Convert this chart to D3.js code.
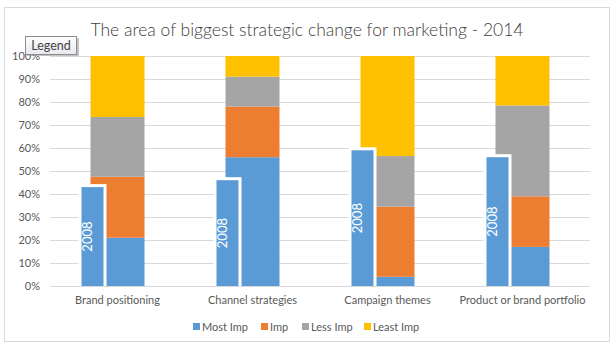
<!DOCTYPE html>
<html><head><meta charset="utf-8">
<script src="https://cdn.jsdelivr.net/npm/d3@7"></script>
<style>html,body{margin:0;padding:0;background:#fff;}svg{display:block;}</style>
</head><body>
<svg id="c" width="614" height="356"></svg>
<script>
const categories = ["Brand positioning","Channel strategies","Campaign themes","Product or brand portfolio"];
const seriesNames = ["Most Imp","Imp","Less Imp","Least Imp"];
const mostImp  = [21, 56, 4, 17];
const imp      = [26.5, 22, 30.5, 22];
const lessImp  = [26, 13, 22, 39.5];
const leastImp = [26.5, 9, 43.5, 21.5];
const mostImp2008 = [43, 46, 59, 56];
const yTicks = [0,10,20,30,40,50,60,70,80,90,100];
const colors = ["#5B9BD5","#ED7D31","#A5A5A5","#FFC000"];

const svg = d3.select("#c");
const font = "Lato, 'Open Sans', sans-serif";
const txt = "#595959";

// outer border
svg.append("rect").attr("x",4.5).attr("y",7.5).attr("width",605).attr("height",334)
  .attr("fill","#fff").attr("stroke","#D9D9D9");

// title
svg.append("text").attr("x",307).attr("y",36).attr("text-anchor","middle")
  .attr("font-family",font).attr("font-weight",300).attr("font-size",17.5).attr("fill","#404040")
  .attr("textLength",433).attr("lengthAdjust","spacingAndGlyphs")
  .text("The area of biggest strategic change for marketing - 2014");

const x = d3.scaleBand().domain(categories).range([50,590]);
const y = d3.scaleLinear().domain([0,100]).range([286,56]);

// gridlines
svg.append("g").selectAll("line").data(yTicks).join("line")
  .attr("x1",50).attr("x2",590).attr("y1",d=>Math.round(y(d))+0.5).attr("y2",d=>Math.round(y(d))+0.5)
  .attr("stroke","#D9D9D9").attr("stroke-width",1);

// y axis labels
const yAxis = d3.axisLeft(y).tickValues(yTicks).tickFormat(d=>d+"%").tickSize(0).tickPadding(0);
const ya = svg.append("g").attr("transform","translate(40,0)").call(yAxis);
ya.select(".domain").remove();
ya.selectAll("text").attr("font-family",font).attr("font-size",11).attr("fill",txt);

// stacked bars
const rows = categories.map((c,i)=>({cat:c, "Most Imp":mostImp[i], "Imp":imp[i], "Less Imp":lessImp[i], "Least Imp":leastImp[i]}));
const stack = d3.stack().keys(seriesNames)(rows);
const bw = x.bandwidth()*0.4;
stack.forEach((s,si)=>{
  svg.append("g").selectAll("rect").data(s).join("rect")
    .attr("x",d=>x(d.data.cat)+x.bandwidth()*0.3)
    .attr("width",bw)
    .attr("y",d=>y(d[1]))
    .attr("height",d=>y(d[0])-y(d[1]))
    .attr("fill",colors[si]);
});

// 2008 overlay bars
const w08 = 22;
const g08 = svg.append("g");
categories.forEach((c,i)=>{
  const bx = x(c)+x.bandwidth()*0.3-9;
  const top = y(mostImp2008[i]);
  g08.append("rect").attr("x",bx-3).attr("y",top-3).attr("width",w08+6).attr("height",y(0)-top+3).attr("fill","#fff");
  g08.append("rect").attr("x",bx).attr("y",top).attr("width",w08).attr("height",y(0)-top).attr("fill",colors[0]);
  const cy = (top+y(0))/2;
  g08.append("text").attr("transform",`translate(${bx+10},${cy}) rotate(-90)`)
    .attr("text-anchor","middle").attr("font-family",font).attr("font-size",13).attr("fill","#fff")
    .text("2008");
});

// category labels
const xa = svg.append("g").attr("transform","translate(0,286)").call(d3.axisBottom(x).tickSize(0).tickPadding(10));
xa.select(".domain").remove();
xa.selectAll("text").attr("font-family",font).attr("font-size",11).attr("fill",txt);

// bottom legend
const legX = [193,261,302,364];
const lg = svg.append("g");
seriesNames.forEach((n,i)=>{
  lg.append("rect").attr("x",legX[i]).attr("y",323).attr("width",7).attr("height",7).attr("fill",colors[i]);
  lg.append("text").attr("x",legX[i]+9).attr("y",331).attr("font-family",font).attr("font-size",11).attr("fill",txt).text(n);
});

// "Legend" callout box
const defs = svg.append("defs");
const gr = defs.append("linearGradient").attr("id","lgbg").attr("x1",0).attr("y1",0).attr("x2",0).attr("y2",1);
gr.append("stop").attr("offset",0).attr("stop-color","#ffffff");
gr.append("stop").attr("offset",1).attr("stop-color","#E8E8EE");
svg.append("rect").attr("x",27).attr("y",38).attr("width",52).attr("height",18).attr("fill","#9a9a9a").attr("opacity",0.6);
svg.append("rect").attr("x",25.5).attr("y",36.5).attr("width",51).attr("height",18).attr("fill","url(#lgbg)").attr("stroke","#8C8C8C");
svg.append("text").attr("x",51).attr("y",50).attr("text-anchor","middle").attr("font-family",font).attr("font-weight",400).attr("font-size",12.5).attr("fill","#444").text("Legend");
</script>
</body></html>
